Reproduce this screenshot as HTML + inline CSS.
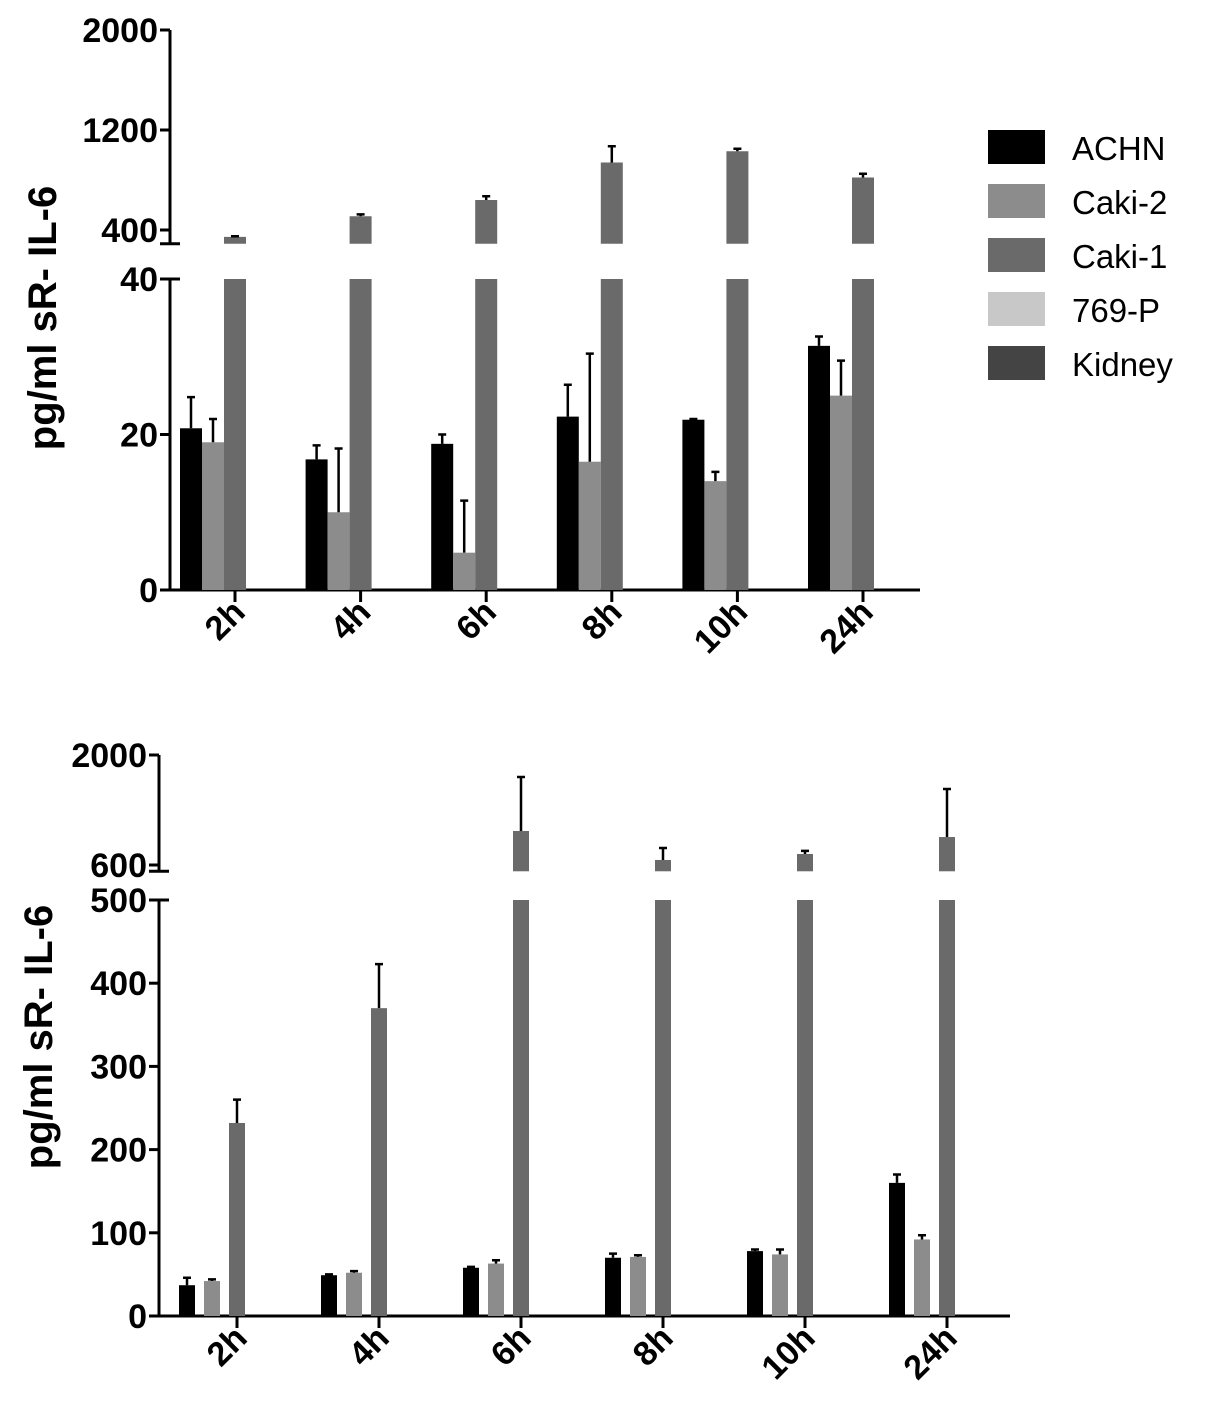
<!DOCTYPE html>
<html><head><meta charset="utf-8"><style>
body{margin:0;background:#fff}
svg text{font-family:"Liberation Sans",sans-serif;font-weight:bold;fill:#000}
</style></head><body>
<svg id="s" width="1205" height="1413" viewBox="0 0 1205 1413"></svg>
<script>
const categories=["2h","4h","6h","8h","10h","24h"];
const seriesNames=["ACHN","Caki-2","Caki-1","769-P","Kidney"];
const colors=["#000","#8c8c8c","#6a6a6a","#c8c8c8","#444"];
// top panel
const topAchn=[20.8,16.8,18.8,22.3,21.9,31.4];
const topAchnErr=[4.0,1.8,1.2,4.1,0.1,1.2];
const topCaki2=[19,10,4.8,16.5,14,25];
const topCaki2Err=[3,8.2,6.7,13.9,1.2,4.5];
const topCaki1=[345,510,640,940,1030,820];
const topCaki1Err=[5,15,30,130,20,30];
// bottom panel
const botAchn=[37,49,58,70,78,160];
const botAchnErr=[9,1,1,5,2,10];
const botCaki2=[42,52,63,71,74,92];
const botCaki2Err=[2,2,4,2,6,5];
const botCaki1=[232,370,1033,664,740,956];
const botCaki1Err=[28,53,687,153,40,611];
const topLowTicks=[0,20,40];
const topHighTicks=[400,1200,2000];
const botLowTicks=[0,100,200,300,400,500];
const botHighTicks=[600,2000];

const S=document.getElementById('s');
const NS="http://www.w3.org/2000/svg";
function el(t,a,p){const e=document.createElementNS(NS,t);for(const k in a)e.setAttribute(k,a[k]);(p||S).appendChild(e);return e;}

function panel(cfg){
  const g=el('g',{});
  
  
  const lo=v=>cfg.y0+(v-cfg.lmin)*(cfg.y1-cfg.y0)/(cfg.lmax-cfg.lmin);
  const hi=v=>cfg.hy0+(v-cfg.hmin)*(cfg.hy1-cfg.hy0)/(cfg.hmax-cfg.hmin);
  const hb=cfg.hbottom;
  const ax=el('path',{d:`M${cfg.ax},${cfg.y1} V${cfg.y0} H${cfg.xend} M${cfg.ax},${hi(cfg.hmax)} V${hi(hb)}`,stroke:'#000','stroke-width':3,fill:'none'},g);
  
  
  el('line',{x1:cfg.ax-10,x2:cfg.ax+10,y1:hi(hb),y2:hi(hb),stroke:'#000','stroke-width':3},g);
  el('line',{x1:cfg.ax-10,x2:cfg.ax+10,y1:cfg.y1,y2:cfg.y1,stroke:'#000','stroke-width':3},g);
  const ticks=(arr,f)=>arr.forEach(v=>{
    el('line',{x1:cfg.ax-10,x2:cfg.ax,y1:f(v),y2:f(v),stroke:'#000','stroke-width':3},g);
    const t=el('text',{x:cfg.ax-12,y:f(v)+12,'text-anchor':'end','font-size':34},g);
    t.textContent=v;
    
    
  });
  ticks(cfg.lowTicks,lo);ticks(cfg.highTicks,hi);
  const tt=el('text',{x:0,y:0,'text-anchor':'middle','font-size':40,transform:`translate(${cfg.tx},${cfg.ty}) rotate(-90)`},g);
  tt.textContent='pg/ml sR- IL-6';
  
  
  categories.forEach((c,i)=>{
    const cx=cfg.x0+i*cfg.step;
    el('line',{x1:cx,x2:cx,y1:cfg.y0,y2:cfg.y0+12,stroke:'#000','stroke-width':3},g);
    const lb=el('text',{x:0,y:0,'text-anchor':'end','font-size':34,transform:`translate(${cx+12},${cfg.y0+24}) rotate(-45)`},g);
    lb.textContent=c;
    
    
    const left=cx-(5*cfg.bw+4*cfg.gap)/2;
    cfg.series.forEach((s,j)=>{
      const x=left+j*(cfg.bw+cfg.gap), v=s.v[i], e=s.e[i];
      const top=Math.min(v,cfg.lmax);
      const r=el('rect',{x,y:lo(top),width:cfg.bw,height:lo(0)-lo(top),fill:colors[j]},g);
      
      
      let yv,ye;
      if(v>cfg.lmax){
        const u=el('rect',{x,y:hi(v),width:cfg.bw,height:hi(hb)-hi(v),fill:colors[j]},g);
        
        
        yv=hi(v);ye=hi(v+e);
      } else {yv=lo(v);ye=lo(v+e);}
      const m=x+cfg.bw/2;
      el('path',{d:`M${m},${yv} V${ye} M${m-4},${ye} H${m+4}`,stroke:'#000','stroke-width':2.5,fill:'none'},g);
    });
  });
}
panel({name:'top-panel',ax:170,xend:920,y0:590,y1:279,lmin:0,lmax:40,hy0:230,hy1:30,hmin:400,hmax:2000,hbottom:290,
  lowTicks:topLowTicks,highTicks:topHighTicks,x0:235,step:125.6,bw:22,gap:0,tx:56,ty:318,
  series:[{v:topAchn,e:topAchnErr},{v:topCaki2,e:topCaki2Err},{v:topCaki1,e:topCaki1Err},{v:[0,0,0,0,0,0],e:[0,0,0,0,0,0]},{v:[0,0,0,0,0,0],e:[0,0,0,0,0,0]}]});
panel({name:'bottom-panel',ax:159,xend:1010,y0:1316,y1:900,lmin:0,lmax:500,hy0:865,hy1:755,hmin:600,hmax:2000,hbottom:520,
  lowTicks:botLowTicks,highTicks:botHighTicks,x0:237,step:142,bw:16,gap:9,tx:52,ty:1037,
  series:[{v:botAchn,e:botAchnErr},{v:botCaki2,e:botCaki2Err},{v:botCaki1,e:botCaki1Err},{v:[0,0,0,0,0,0],e:[0,0,0,0,0,0]},{v:[0,0,0,0,0,0],e:[0,0,0,0,0,0]}]});
seriesNames.forEach((n,i)=>{
  const y=130+i*54;
  const g=el('g',{});
  
  
  el('rect',{x:988,y,width:57,height:34,fill:colors[i]},g);
  const t=el('text',{x:1072,y:y+30,'font-size':33,style:'font-weight:normal'},g);
  t.textContent=n;
});
</script>
</body></html>
